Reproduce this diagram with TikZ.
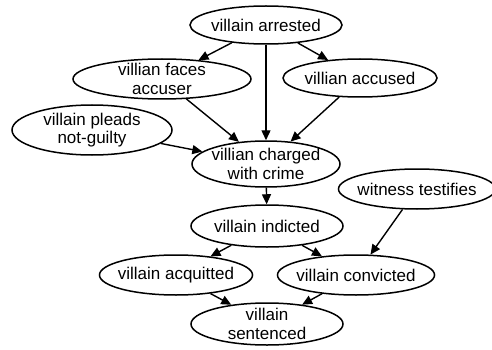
\documentclass[tikz,border=0pt]{standalone}
\usepackage{fontspec}
\setmainfont{Liberation Sans}
\usetikzlibrary{shapes.geometric,arrows.meta}
\begin{document}
\begin{tikzpicture}[x=1pt,y=-1pt,
  ev/.style={draw,ellipse,line width=1.5pt,inner xsep=-4pt,inner ysep=-2pt,
    align=center,font=\fontsize{17}{18.5}\selectfont},
  link/.style={line width=1.4pt,-{Triangle[length=10pt,width=9pt]}}]
\useasboundingbox (0,0) rectangle (492,350);
\node[ev,minimum width=152pt,minimum height=38pt] (arr) at (266,25) {villain arrested};
\node[ev,minimum width=178pt,minimum height=40pt] (faces) at (162,79) {villian faces\\accuser};
\node[ev,minimum width=154pt,minimum height=38pt] (acc) at (360,78) {villian accused};
\node[ev,minimum width=160pt,minimum height=50pt] (plead) at (92,130) {villain pleads\\not-guilty};
\node[ev,minimum width=148pt,minimum height=46pt] (chg) at (266,164) {villian charged\\with crime};
\node[ev,minimum width=150pt,minimum height=40pt] (wit) at (417,189) {witness testifies};
\node[ev,minimum width=152pt,minimum height=42pt] (ind) at (267,226) {villain indicted};
\node[ev,minimum width=150pt,minimum height=40pt] (aq) at (176,275) {villain acquitted};
\node[ev,minimum width=152pt,minimum height=40pt] (conv) at (356,275) {villain convicted};
\node[ev,minimum width=152pt,minimum height=42pt] (sent) at (267,324) {villain\\sentenced};
\draw[link] (arr) -- (faces);
\draw[link] (arr) -- (acc);
\draw[link] (arr) -- (chg);
\draw[link] (faces) -- (chg);
\draw[link] (acc) -- (chg);
\draw[link] (plead) -- (chg);
\draw[link] (chg) -- (ind);
\draw[link] (ind) -- (aq);
\draw[link] (ind) -- (conv);
\draw[link] (wit) -- (conv);
\draw[link] (aq) -- (sent);
\draw[link] (conv) -- (sent);
\end{tikzpicture}
\end{document}
